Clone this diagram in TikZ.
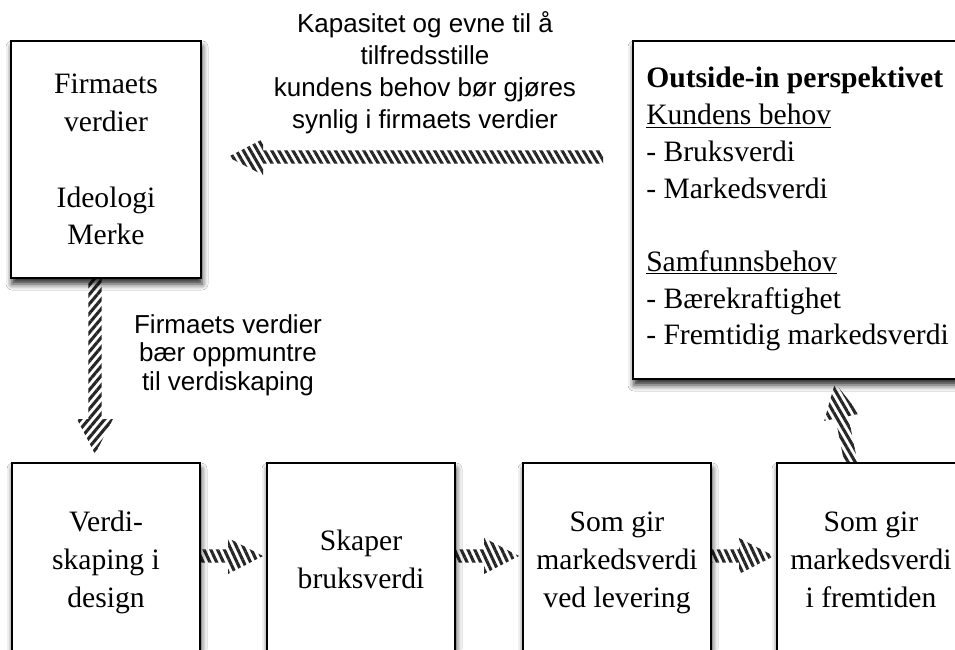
\documentclass[tikz,border=0pt]{standalone}
\usepackage{fontspec}
\setmainfont{Liberation Serif}
\newfontfamily\annfont{Liberation Sans}
\usetikzlibrary{calc,patterns.meta,shadows.blur}

% fat striped arrow: #1 stripe angle, #2 tail, #3 tip
\newcommand\fatarrow[3]{%
  \coordinate (fa-b) at ($#3!26.25pt!#2$);
  \path[stripes=#1]
    ($#2!4.9pt!90:#3$) -- ($(fa-b)!4.9pt!90:#3$) -- ($(fa-b)!13.5pt!90:#3$)
    -- #3
    -- ($(fa-b)!13.5pt!-90:#3$) -- ($(fa-b)!4.9pt!-90:#3$) -- ($#2!4.9pt!-90:#3$)
    -- cycle;}

\tikzset{
  box/.style={draw=black, line width=1.8pt, fill=white, rectangle, inner sep=0pt,
    blur shadow={shadow xshift=0.8pt, shadow yshift=-4.5pt,
                 shadow blur radius=4.5pt, shadow opacity=85}},
  boxtext/.style={font=\fontsize{22.2pt}{27pt}\selectfont, inner sep=0pt, anchor=base},
  listtext/.style={boxtext, anchor=base west},
  note/.style={font=\annfont\fontsize{19.5pt}{24pt}\selectfont, inner sep=0pt, anchor=base},
  stripes/.style={preaction={fill=white},
    pattern={Lines[angle=#1, distance=4.6pt, line width=2.3pt]},
    pattern color=black!85},
}

\begin{document}
\begin{tikzpicture}[x=0.75pt, y=-0.75pt]
  \useasboundingbox (0,0) rectangle (955,649);
  \fill[white] (0,0) rectangle (955,649);

  % arrow end points
  \coordinate (capTail) at (603,157);
  \coordinate (capTip)  at (228,157);
  \coordinate (valTail) at (95,279);
  \coordinate (valTip)  at (95,454);
  \coordinate (b1Tail)  at (200,556);
  \coordinate (b1Tip)   at (263,556);
  \coordinate (b2Tail)  at (455,556);
  \coordinate (b2Tip)   at (519,556);
  \coordinate (b3Tail)  at (711,556);
  \coordinate (b3Tip)   at (774,556);
  \coordinate (upTail)  at (851,463);
  \coordinate (upTip)   at (835,383);

  % striped arrows (behind the boxes)
  \fatarrow{-60}{(capTail)}{(capTip)}
  \fatarrow{50}{(valTail)}{(valTip)}
  \fatarrow{-65}{(b1Tail)}{(b1Tip)}
  \fatarrow{-65}{(b2Tail)}{(b2Tip)}
  \fatarrow{-65}{(b3Tail)}{(b3Tip)}
  \fatarrow{-60}{(upTail)}{(upTip)}

  % boxes
  \node[box, minimum width=142.5pt, minimum height=177.75pt] (firm) at (106,159.5) {};
  \node[box, minimum width=270pt, minimum height=253.5pt] (outside) at (813,210) {};
  \node[box, minimum width=141pt, minimum height=162.75pt] (design) at (106,571.5) {};
  \node[box, minimum width=141pt, minimum height=162.75pt] (bruk) at (361,571.5) {};
  \node[box, minimum width=141pt, minimum height=162.75pt] (lever) at (617,571.5) {};
  \node[box, minimum width=141pt, minimum height=162.75pt] (fremtid) at (871,571.5) {};

  % box texts
  \foreach \t/\yy [count=\i] in {Firmaets/94, verdier/131.5, Ideologi/207, Merke/244.5}
    \node[boxtext] (firm-\i) at (106,\yy) {\t};

  \foreach \t/\k [count=\i] in {{\textbf{Outside-in perspektivet}}/0,
      {\underline{Kundens behov}}/1, {- Bruksverdi}/2, {- Markedsverdi}/3,
      {\underline{Samfunnsbehov}}/5, {- Bærekraftighet}/6,
      {- Fremtidig markedsverdi}/7}
    \node[listtext] (out-\i) at (646,{88+\k*36.7}) {\t};

  \foreach \t [count=\i] in {Verdi-, skaping i, design}
    \node[boxtext] (design-\i) at (106,{531+(\i-1)*38}) {\t};
  \foreach \t [count=\i] in {Skaper, bruksverdi}
    \node[boxtext] (bruk-\i) at (361,{550+(\i-1)*38}) {\t};
  \foreach \t [count=\i] in {Som gir, markedsverdi, ved levering}
    \node[boxtext] (lever-\i) at (617,{531+(\i-1)*38}) {\t};
  \foreach \t [count=\i] in {Som gir, markedsverdi, i fremtiden}
    \node[boxtext] (fremtid-\i) at (871,{531+(\i-1)*38}) {\t};

  % arrow captions
  \foreach \t [count=\i] in {Kapasitet og evne til å, tilfredsstille,
      kundens behov bør gjøres, synlig i firmaets verdier}
    \node[note] (cap-\i) at (425,{33+(\i-1)*31.7}) {\t};
  \foreach \t [count=\i] in {Firmaets verdier, bær oppmuntre, til verdiskaping}
    \node[note] (val-\i) at (228,{333+(\i-1)*28.5}) {\t};
\end{tikzpicture}
\end{document}
